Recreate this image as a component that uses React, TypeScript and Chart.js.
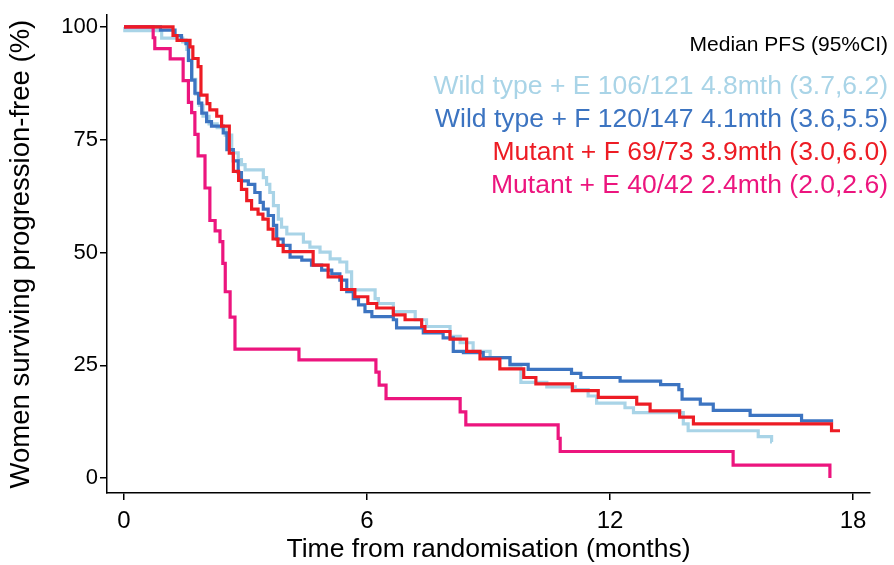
import React, { useEffect, useRef } from "react";
import { Chart, registerables } from "chart.js";

Chart.register(...registerables);

// ---- Data (months, % progression-free) ----
const wtE_t = [0, 0.02, 0.93, 1.45, 1.55, 1.6, 1.68, 1.77, 1.86, 1.95, 2.1, 2.3, 2.5, 2.66, 2.82, 2.9, 2.99, 3.44, 3.52, 3.6, 3.69, 3.81, 3.89, 4.02, 4.43, 4.59, 4.84, 5.09, 5.33, 5.5, 5.62, 6.2, 6.28, 6.65, 7.19, 7.47, 8.05, 8.3, 8.62, 9.04, 9.53, 9.8, 10.44, 11.14, 11.46, 11.67, 12.37, 12.58, 13.81, 13.93, 15.66, 15.99, 16.0];
const wtE_s = [100, 99.2, 97.5, 96.7, 95.0, 92.5, 88.4, 85.1, 82.6, 80.2, 78.5, 77.7, 76.0, 72.1, 70.6, 69.5, 68.3, 66.6, 65.1, 63.3, 60.4, 57.4, 55.6, 54.1, 52.3, 51.2, 50.1, 48.6, 47.9, 45.7, 41.7, 39.8, 38.7, 36.9, 35.1, 33.6, 31.4, 30.0, 28.1, 26.7, 24.5, 21.2, 20.2, 19.6, 18.2, 16.6, 15.6, 14.5, 12.0, 10.5, 9.2, 8.0, 8.0];

const wtF_t = [0, 0.9, 1.26, 1.42, 1.53, 1.59, 1.67, 1.75, 1.84, 1.92, 2.04, 2.16, 2.45, 2.54, 2.7, 2.82, 2.9, 3.07, 3.23, 3.36, 3.44, 3.56, 3.69, 3.77, 3.93, 4.1, 4.39, 4.63, 4.88, 5.13, 5.33, 5.5, 5.66, 5.79, 5.95, 6.12, 6.65, 6.73, 7.39, 7.88, 8.13, 8.38, 8.87, 9.53, 9.98, 11.05, 11.28, 12.25, 13.25, 13.7, 13.78, 14.23, 14.55, 15.46, 16.73, 17.51];
const wtF_s = [100, 99.3, 98.1, 97.0, 96.3, 92.6, 88.2, 85.3, 83.1, 80.9, 79.0, 78.0, 76.5, 72.8, 70.3, 67.7, 65.9, 65.1, 63.3, 61.1, 59.6, 58.2, 56.0, 53.0, 51.6, 49.0, 48.3, 47.2, 46.1, 45.3, 43.9, 41.3, 39.8, 38.4, 36.9, 35.8, 35.1, 33.3, 32.2, 31.1, 28.1, 27.8, 26.7, 25.2, 24.1, 23.2, 22.3, 21.5, 20.7, 19.6, 17.5, 16.4, 15.0, 13.9, 12.7, 12.7];

const mutF_t = [0, 1.21, 1.31, 1.63, 1.7, 1.83, 1.9, 2.05, 2.12, 2.29, 2.41, 2.6, 2.7, 2.83, 2.9, 3.03, 3.15, 3.31, 3.43, 3.56, 3.68, 3.8, 3.93, 4.67, 5.04, 5.37, 5.7, 6.02, 6.24, 6.65, 6.94, 7.35, 7.43, 8.05, 8.46, 8.79, 9.28, 9.87, 10.17, 11.07, 11.71, 12.66, 12.99, 13.72, 14.06, 17.47, 17.68];
const mutF_s = [100, 98.1, 97.0, 95.6, 93.0, 91.2, 84.9, 83.0, 81.6, 80.2, 78.0, 72.0, 68.0, 66.0, 64.0, 61.5, 59.6, 58.5, 57.4, 55.2, 53.0, 51.6, 50.2, 47.2, 44.6, 41.8, 40.2, 38.7, 37.7, 36.2, 35.1, 33.6, 32.5, 30.8, 28.1, 26.4, 24.2, 22.3, 20.9, 19.4, 17.9, 16.4, 14.9, 13.5, 12.0, 10.5, 10.5];

const mutE_t = [0, 0.72, 0.76, 1.14, 1.46, 1.59, 1.67, 1.75, 1.83, 2.0, 2.12, 2.25, 2.37, 2.44, 2.5, 2.62, 2.74, 4.32, 6.22, 6.3, 6.47, 8.3, 8.44, 10.72, 10.77, 15.04, 17.43];
const mutE_s = [100, 97.6, 95.2, 92.9, 88.1, 83.3, 81.0, 76.2, 71.4, 64.3, 57.1, 54.8, 52.4, 47.6, 41.3, 35.7, 28.6, 26.2, 23.5, 20.6, 17.6, 14.7, 11.8, 8.8, 5.9, 2.9, 0];

const xTicks = [0, 6, 12, 18];
const yTicks = [0, 25, 50, 75, 100];

const legendHeader = "Median PFS (95%CI)";
const legendLabels = [
  "Wild type + E 106/121 4.8mth (3.7,6.2)",
  "Wild type + F 120/147 4.1mth (3.6,5.5)",
  "Mutant + F 69/73 3.9mth (3.0,6.0)",
  "Mutant + E 40/42 2.4mth (2.0,2.6)",
];
const seriesColors = ["#a9d4e7", "#3c74c1", "#ed1c24", "#ec157e"];

const toPoints = (t: number[], s: number[]) => t.map((x, i) => ({ x, y: s[i] }));

const FONT = "'Liberation Sans', Arial, sans-serif";

const legendPlugin = {
  id: "kmLegend",
  afterDraw(chart: any) {
    const ctx = chart.ctx;
    ctx.save();
    ctx.textAlign = "right";
    ctx.textBaseline = "alphabetic";
    ctx.fillStyle = "#000";
    ctx.font = `21px ${FONT}`;
    ctx.fillText(legendHeader, 888, 51);
    ctx.font = `26.5px ${FONT}`;
    const baselines = [94, 127, 160, 193];
    legendLabels.forEach((lab, i) => {
      ctx.fillStyle = seriesColors[i];
      ctx.fillText(lab, 888, baselines[i]);
    });
    ctx.restore();
  },
};

export default function App() {
  const ref = useRef<HTMLCanvasElement | null>(null);
  useEffect(() => {
    if (!ref.current) return;
    const series = [
      { t: wtE_t, s: wtE_s, order: 3 },
      { t: wtF_t, s: wtF_s, order: 2 },
      { t: mutF_t, s: mutF_s, order: 0 },
      { t: mutE_t, s: mutE_s, order: 1 },
    ];
    const chart = new Chart(ref.current, {
      type: "line",
      data: {
        datasets: series.map((d, i) => ({
          label: legendLabels[i],
          data: toPoints(d.t, d.s),
          borderColor: seriesColors[i],
          backgroundColor: seriesColors[i],
          borderWidth: 3.2,
          pointRadius: 0,
          stepped: true,
          fill: false,
          order: d.order,
        })),
      },
      options: {
        animation: false,
        responsive: false,
        layout: { padding: { top: 3, right: 24, left: 0, bottom: 0 } },
        plugins: { legend: { display: false }, tooltip: { enabled: false } },
        scales: {
          x: {
            type: "linear",
            min: -0.42,
            max: 18.42,
            afterBuildTicks: (s: any) => {
              s.ticks = xTicks.map((v) => ({ value: v }));
            },
            afterFit: (s: any) => {
              s.height = 72;
            },
            ticks: { color: "#000", font: { family: FONT, size: 24 }, padding: 7, maxRotation: 0, autoSkip: false },
            grid: { drawOnChartArea: false, drawTicks: true, tickLength: 7, color: "#000", lineWidth: 1.5 },
            border: { display: true, color: "#000", width: 1.5 },
            title: {
              display: true,
              text: "Time from randomisation (months)",
              color: "#000",
              font: { family: FONT, size: 26.5, lineHeight: 1 },
              padding: { top: 0, bottom: 2.5 },
            },
          },
          y: {
            type: "linear",
            min: -3.3,
            max: 102.6,
            afterBuildTicks: (s: any) => {
              s.ticks = yTicks.map((v) => ({ value: v }));
            },
            afterFit: (s: any) => {
              s.width = 107;
            },
            ticks: { color: "#000", font: { family: FONT, size: 22 }, padding: 2 },
            grid: { drawOnChartArea: false, drawTicks: true, tickLength: 7, color: "#000", lineWidth: 1.5 },
            border: { display: true, color: "#000", width: 1.5 },
            title: {
              display: true,
              text: "Women surviving progression-free (%)",
              color: "#000",
              font: { family: FONT, size: 27.5, lineHeight: 1 },
              padding: { top: 8, bottom: 0 },
            },
          },
        },
      },
      plugins: [legendPlugin],
    });
    return () => chart.destroy();
  }, []);
  return (
    <div style={{ position: "absolute", left: 0, top: 0, width: 894, height: 565, background: "#fff" }}>
      <canvas ref={ref} width={894} height={565} style={{ display: "block" }} />
    </div>
  );
}
